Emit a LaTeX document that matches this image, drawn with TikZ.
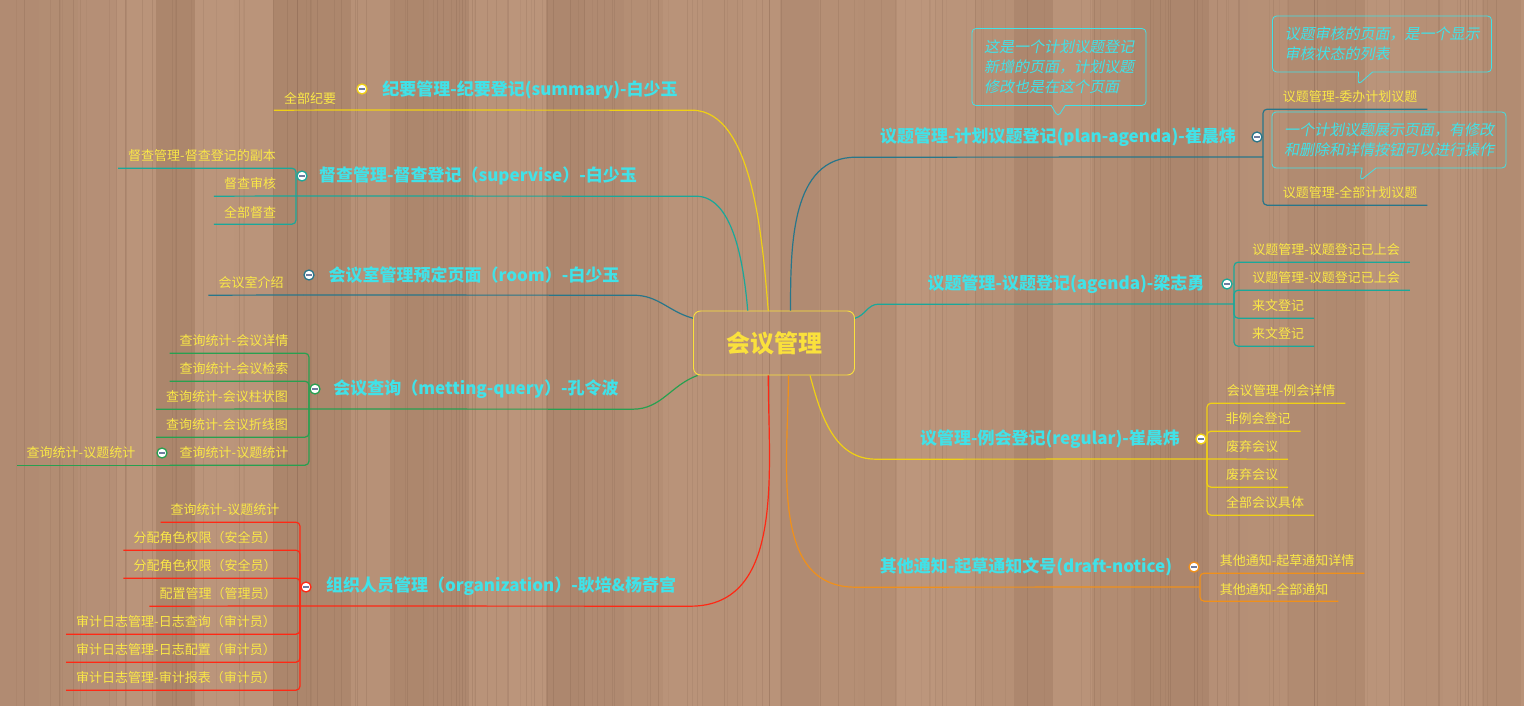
\documentclass[tikz,border=0pt]{standalone}
\usepackage{fontspec}
\usepackage{xcolor}
\usepackage{tikz}
\usetikzlibrary{shapes}
\newfontfamily\cjk{Noto Sans CJK SC}
\newfontfamily\cjkit[FakeSlant=0.2]{Noto Sans CJK SC}
\definecolor{woodA}{RGB}{188,150,124}
\definecolor{woodB}{RGB}{166,128,103}
\definecolor{grain}{RGB}{110,78,60}
\definecolor{topiccyan}{RGB}{64,226,232}
\definecolor{kidyellow}{RGB}{250,232,70}
\definecolor{mainyellow}{RGB}{250,225,60}
\definecolor{lnyellow}{RGB}{240,208,20}
\definecolor{lnteal}{RGB}{26,168,154}
\definecolor{lnblue}{RGB}{40,118,138}
\definecolor{lngreen}{RGB}{40,160,80}
\definecolor{lnred}{RGB}{255,40,20}
\definecolor{lnorange}{RGB}{240,144,26}
\definecolor{foldminus}{RGB}{110,125,160}
\tikzset{
	main node/.style={draw=mainyellow,line width=0.9pt,rounded corners=7pt,minimum width=161pt,
		minimum height=64pt,text=mainyellow,font=\cjk\bfseries\fontsize{24}{24}\selectfont},
	topic/.style={text=topiccyan,minimum height=40pt,inner xsep=14pt,font=\cjk\bfseries\fontsize{17}{17}\selectfont},
	leaf/.style={text=kidyellow,minimum height=24pt,inner xsep=10pt,font=\cjk\fontsize{13}{13}\selectfont},
	fold/.style={circle,draw=#1,fill=white,line width=1.3pt,minimum size=10pt,inner sep=0pt,
		path picture={\draw[foldminus,line width=1.1pt] ([xshift=-2.6pt]path picture bounding box.center)
		-- ([xshift=2.6pt]path picture bounding box.center);}},
	note/.style={rectangle callout,draw=topiccyan,line width=0.8pt,rounded corners=4pt,callout pointer width=14pt,
		text=topiccyan,align=left,inner xsep=12pt,font=\cjkit\fontsize{15}{20}\selectfont},
	link/.style={line width=1.2pt,draw=#1},
	bracket/.style={line width=1.2pt,draw=#1,rounded corners=4pt}
}

\begin{document}
\begin{tikzpicture}[x=1pt,y=-1pt]
	\useasboundingbox (0,0) rectangle (1524,706);
	% wood planks
	\begin{scope}
		\clip (0,0) rectangle (1524,706);
		\fill[woodA] (0,0) rectangle (1524,706);
		\pgfmathsetseed{12}
		\foreach \i in {0,...,39}{
			\pgfmathsetmacro{\plankmix}{int(25+rnd*75)}
			\fill[woodA!\plankmix!woodB] (\i*39,0) rectangle ++(39,706);
		}
		\foreach \i in {1,...,160}{
			\pgfmathsetmacro{\grainx}{rnd*1524}
			\pgfmathsetmacro{\grainop}{0.05+rnd*0.12}
			\draw[grain,opacity=\grainop,line width=0.6pt] (\grainx,0) -- (\grainx,706);
		}
	\end{scope}

	\node[main node] (cm) at (774,343) {会议管理};

	% left side
	\node[topic] (summ) at (530,90) {纪要管理-纪要登记(summary)-白少玉};
	\node[fold=lnyellow] (summ-f) at (362,89) {};
	\coordinate (summ-br) at (356,110);
	\node[leaf] (summ-1) at (310,98) {全部纪要};
	\draw[link=lnyellow] (summ-br) -- (summ.south east) to[out=0,in=95,looseness=0.75] (cm.100);
	\draw[link=lnyellow] (summ-br) -- (summ-1.south west);

	\node[topic] (sup) at (478,176) {督查管理-督查登记（supervise）-白少玉};
	\node[fold=lnteal] (sup-f) at (302,176) {};
	\coordinate (sup-br) at (296,196);
	\node[leaf] (sup-1) at (202,156) {督查管理-督查登记的副本};
	\node[leaf] (sup-2) at (250,184) {督查审核};
	\node[leaf] (sup-3) at (250,212) {全部督查};
	\draw[link=lnteal] (sup-br) -- (sup.south east) -- ++(45,0) to[out=0,in=95,looseness=0.8] (cm.129);
	\draw[link=lnteal] (sup-br) -- (sup-2.south west);
	\foreach \k in {sup-1,sup-3}
		\draw[bracket=lnteal] (sup-br) |- (\k.south west);

	\node[topic] (room) at (474,275) {会议室管理预定页面（room）-白少玉};
	\node[fold=lnblue] (room-f) at (309,275) {};
	\coordinate (room-br) at (303,295);
	\node[leaf] (room-1) at (251,283) {会议室介绍};
	\draw[link=lnblue] (room-br) -- (room.south east) to[out=0,in=165] (cm.163);
	\draw[link=lnblue] (room-br) -- (room-1.south west);

	\node[topic] (qry) at (476,389) {会议查询（metting-query）-孔令波};
	\node[fold=lngreen] (qry-f) at (315,389) {};
	\coordinate (qry-br) at (309,409);
	\node[leaf] (qry-1) at (234,341) {查询统计-会议详情};
	\node[leaf] (qry-2) at (234,369) {查询统计-会议检索};
	\node[leaf] (qry-3) at (227,397) {查询统计-会议柱状图};
	\node[leaf] (qry-4) at (227,425) {查询统计-会议折线图};
	\node[leaf] (qry-5) at (234,453) {查询统计-议题统计};
	\node[fold=lngreen] (qry-5f) at (162,453) {};
	\node[leaf] (qry-51) at (81,453) {查询统计-议题统计};
	\draw[link=lngreen] (qry-br) -- (qry.south east) to[out=0,in=200] (cm.203);
	\draw[link=lngreen] (qry-br) -- (qry-3.south west);
	\foreach \k in {qry-1,qry-2,qry-4,qry-5}
		\draw[bracket=lngreen] (qry-br) |- (\k.south west);
	\draw[link=lngreen] (qry-5.south west) -- (qry-51.south west);

	\node[topic] (org) at (501,586) {组织人员管理（organization）-耿培\&杨奇宫};
	\node[fold=lnred] (org-f) at (306,587) {};
	\coordinate (org-br) at (300,606);
	\node[leaf] (org-1) at (225,510) {查询统计-议题统计};
	\node[leaf] (org-2) at (205,538) {分配角色权限（安全员）};
	\node[leaf] (org-3) at (205,566) {分配角色权限（安全员）};
	\node[leaf] (org-4) at (218,594) {配置管理（管理员）};
	\node[leaf] (org-5) at (176,622) {审计日志管理-日志查询（审计员）};
	\node[leaf] (org-6) at (176,650) {审计日志管理-日志配置（审计员）};
	\node[leaf] (org-7) at (176,678) {审计日志管理-审计报表（审计员）};
	\draw[link=lnred] (org-br) -- (org.south east) to[out=0,in=270] (cm.260);
	\draw[link=lnred] (org-br) -- (org-4.south west);
	\foreach \k in {org-1,org-2,org-3,org-5,org-6,org-7}
		\draw[bracket=lnred] (org-br) |- (\k.south west);

	% right side
	\node[topic] (plan) at (1058,137) {议题管理-计划议题登记(plan-agenda)-崔晨炜};
	\node[fold=lnblue] (plan-f) at (1257,137) {};
	\coordinate (plan-br) at (1263,157);
	\node[leaf] (plan-1) at (1350,97) {议题管理-委办计划议题};
	\node[leaf] (plan-2) at (1350,193) {议题管理-全部计划议题};
	\draw[link=lnblue] (cm.63) to[out=90,in=180] ([xshift=-10pt]plan.south west) -- (plan-br);
	\foreach \k in {plan-1,plan-2}
		\draw[bracket=lnblue] (plan-br) |- (\k.south east);
	\node[note,minimum height=77pt,callout absolute pointer={(plan.north)}] (plan-n) at (1059,67)
		{这是一个计划议题登记\\新增的页面，计划议题\\修改也是在这个页面};
	\node[note,minimum height=56pt,callout absolute pointer={([xshift=8pt]plan-1.north)}] (plan-1n) at (1382,44)
		{议题审核的页面，是一个显示\\审核状态的列表};
	\node[note,minimum height=56pt,callout absolute pointer={([xshift=10pt]plan-2.north)}] (plan-2n) at (1389,140)
		{一个计划议题展示页面，有修改\\和删除和详情按钮可以进行操作};

	\node[topic] (agd) at (1066,284) {议题管理-议题登记(agenda)-梁志勇};
	\node[fold=lnteal] (agd-f) at (1227,284) {};
	\coordinate (agd-br) at (1234,304);
	\node[leaf] (agd-1) at (1326,250) {议题管理-议题登记已上会};
	\node[leaf] (agd-2) at (1326,278) {议题管理-议题登记已上会};
	\node[leaf] (agd-3) at (1278,306) {来文登记};
	\node[leaf] (agd-4) at (1278,334) {来文登记};
	\draw[link=lnteal] (cm.17) to[out=15,in=180] ([xshift=-35pt]agd.south west) -- (agd-br);
	\foreach \k in {agd-1,agd-2,agd-3,agd-4}
		\draw[bracket=lnteal] (agd-br) |- (\k.south east);

	\node[topic] (reg) at (1050,439) {议管理-例会登记(regular)-崔晨炜};
	\node[fold=lnyellow] (reg-f) at (1201,439) {};
	\coordinate (reg-br) at (1207,459);
	\node[leaf] (reg-1) at (1281,391) {会议管理-例会详情};
	\node[leaf] (reg-2) at (1258,419) {非例会登记};
	\node[leaf] (reg-3) at (1252,447) {废弃会议};
	\node[leaf] (reg-4) at (1252,475) {废弃会议};
	\node[leaf] (reg-5) at (1265,503) {全部会议具体};
	\draw[link=lnyellow] (cm.318) to[out=285,in=180] ([xshift=-30pt]reg.south west) -- (reg-br);
	\draw[link=lnyellow] (reg-br) -- (reg-3.south east);
	\foreach \k in {reg-1,reg-2,reg-4,reg-5}
		\draw[bracket=lnyellow] (reg-br) |- (\k.south east);

	\node[topic] (drf) at (1026,567) {其他通知-起草通知文号(draft-notice)};
	\node[fold=lnorange] (drf-f) at (1194,567) {};
	\coordinate (drf-br) at (1200,587);
	\node[leaf] (drf-1) at (1287,561) {其他通知-起草通知详情};
	\node[leaf] (drf-2) at (1274,589) {其他通知-全部通知};
	\draw[link=lnorange] (cm.294) to[out=270,in=180] ([xshift=-10pt]drf.south west) -- (drf-br);
	\foreach \k in {drf-1,drf-2}
		\draw[bracket=lnorange] (drf-br) |- (\k.south east);
\end{tikzpicture}
\end{document}
